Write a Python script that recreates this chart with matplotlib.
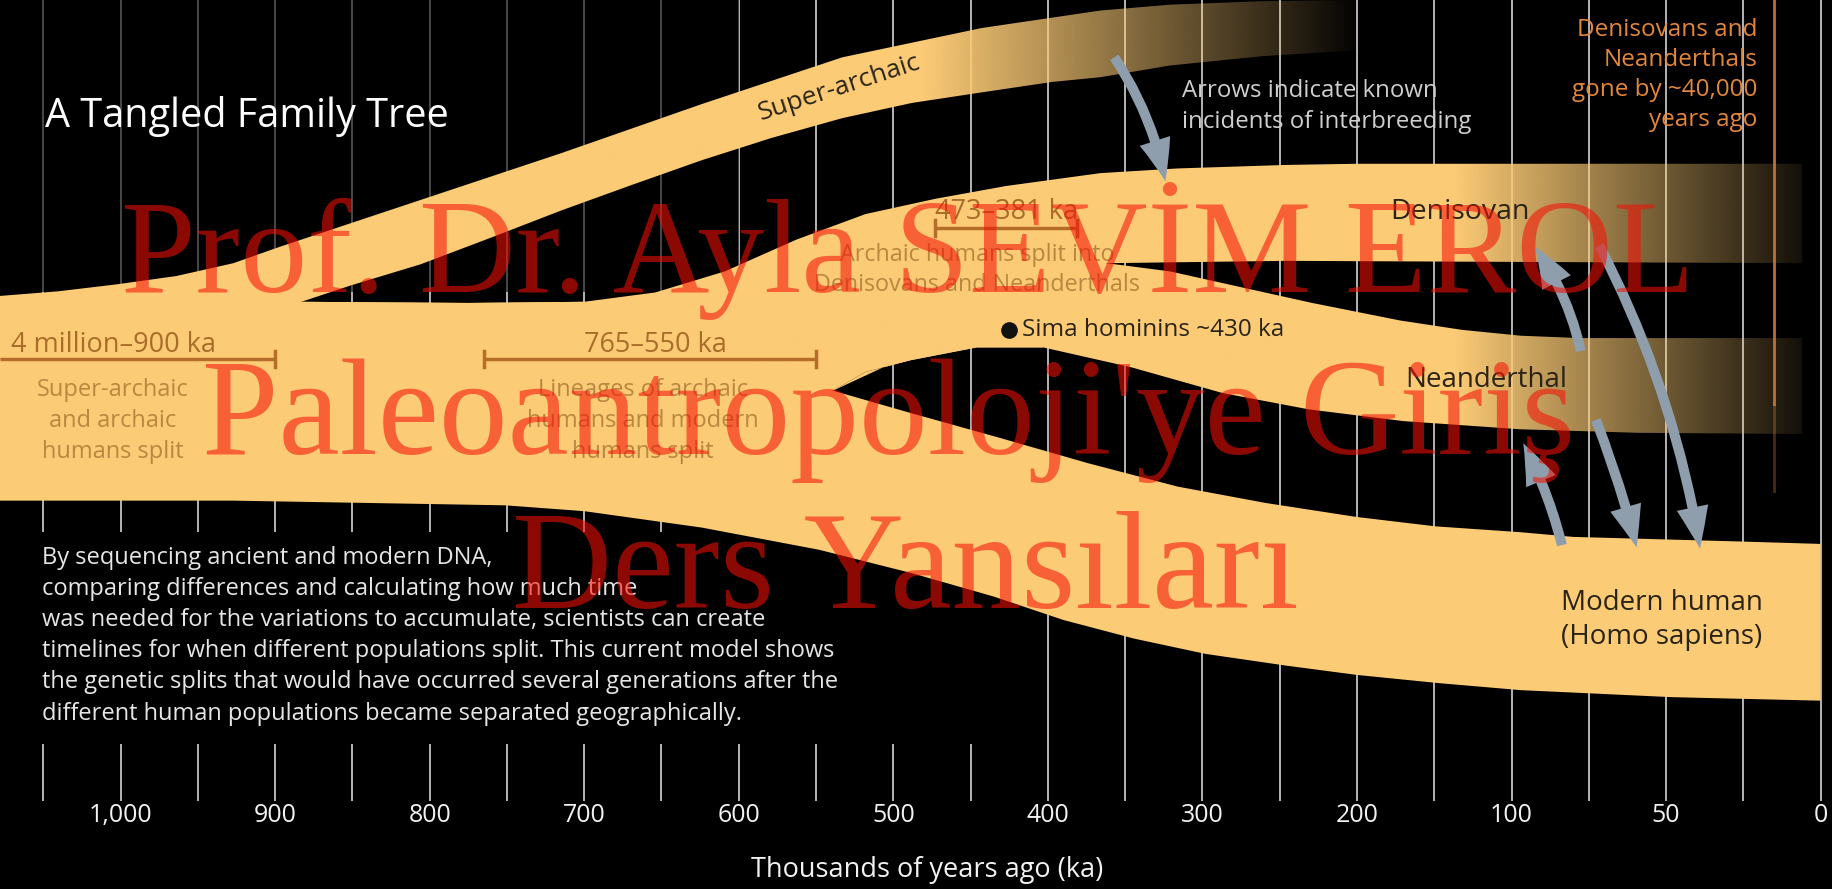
import numpy as np
import matplotlib
matplotlib.use("Agg")
import matplotlib.pyplot as plt
from matplotlib.patches import Polygon, FancyArrowPatch, Rectangle, ArrowStyle

plt.rcParams['font.family'] = ['Open Sans', 'DejaVu Sans']

# ---------------- data ----------------
tick_ka = [1000, 900, 800, 700, 600, 500, 400, 300, 200, 100, 50, 0]
tick_labels = ["1,000", "900", "800", "700", "600", "500", "400", "300", "200", "100", "50", "0"]
grid_ka = [1050, 1000, 950, 900, 850, 800, 750, 700, 650, 600, 550, 500, 450, 400,
           350, 300, 250, 200, 150, 100, 75, 50, 25, 0]

# band outlines: time (ka) and vertical position (0 = top, 760 = bottom)
sa_top_ka = [1078, 1040, 1002, 964, 927, 897, 806, 715, 624, 533, 443, 366, 321, 261, 200]
sa_top_y = [253, 249, 243, 236, 225, 211, 171, 131, 89, 49, 24, 9, 4, 1, 0]
sa_bot_ka = [883, 851, 806, 760, 715, 669, 624, 579, 533, 488, 443, 397, 366, 321, 261, 200]
sa_bot_y = [258, 244, 226, 203, 180, 158, 137, 118, 101, 88, 79, 70, 66, 56, 48, 43]

trunk_top_ka = [1078, 883]
trunk_top_y = [253, 258]
arch_top_ka = [883, 775, 700, 654, 609, 563, 518, 473, 427, 366, 316, 246, 200, 6]
arch_top_y = [258, 259, 258, 250, 232, 205, 183, 170, 159, 148, 144, 141, 140, 140]
den_bot_ka = [362, 246, 6]
den_bot_y = [225, 223, 225]

nea_top_ka = [362, 321, 287, 229, 172, 132, 97, 78, 6]
nea_top_y = [225, 232, 242, 259, 274, 282, 287, 289, 289]
nea_bot_ka = [539, 518, 489, 446, 403, 346, 287, 231, 170, 97, 59, 6]
nea_bot_y = [334, 318, 308, 297, 297, 314, 336, 350, 360, 367, 370, 371]

mod_top_ka = [539, 489, 432, 374, 316, 259, 200, 149, 97, 80, 25, 0]
mod_top_y = [334, 353, 374, 396, 416, 430, 442, 450, 455, 459, 463, 465]
mod_bot_ka = [1078, 927, 751, 700, 624, 548, 488, 435, 390, 344, 298, 246, 200, 147, 97, 48, 0]
mod_bot_y = [428, 428, 432, 437, 451, 470, 490, 510, 530, 546, 559, 569, 577, 584, 590, 596, 599]

# interbreeding arrows: (from ka, from y, to ka, to y, curvature)
arrows = [(357, 49, 324, 155, -0.10),
          (77.6, 300, 92.4, 211, 0.10),
          (71.6, 210, 39.0, 469, -0.08),
          (72.7, 359, 59.5, 468, -0.03),
          (83.7, 466, 96.2, 379, 0.06)]

# split-time brackets: (from ka, to ka, y, left tick, right tick)
brackets = [(1078, 900, 307, False, True),
            (765, 550, 307, True, True),
            (473, 381, 195, True, True)]

sima_ka, sima_y = 425, 282
extinction_ka = 15

body_lines = ["By sequencing ancient and modern DNA,",
              "comparing differences and calculating how much time",
              "was needed for the variations to accumulate, scientists can create",
              "timelines for when different populations split. This current model shows",
              "the genetic splits that would have occurred several generations after the",
              "different human populations became separated geographically."]

# ---------------- styles ----------------
BAND = '#FCCB76'
BAND_RGB = np.array([252, 203, 118]) / 255.0
ORANGE = '#E3873A'
BROWN = '#A96C2A'
BROWN_L = '#B98840'
BRACKET = '#B46E28'
DARK = '#2A2418'
ARROW = '#8F9EAC'


def fwd(t):
    t = np.asarray(t, float)
    return np.where(t >= 100, t / 100.0, t / 50.0 - 1.0)


def inv(s):
    s = np.asarray(s, float)
    return np.where(s >= 1, s * 100.0, (s + 1.0) * 50.0)


fig = plt.figure(figsize=(18.33, 8.89), dpi=100, facecolor='black')
ax = fig.add_axes([0, 0, 1, 1])
ax.set_facecolor('black')
ax.set_xscale('function', functions=(fwd, inv))
ax.set_xlim(1078, -4)
ax.set_ylim(760, 0)
ax.set_autoscale_on(False)
ax.axis('off')


def axfrac(t):
    return ax.transAxes.inverted().transform(ax.transData.transform((t, 0)))[0]


# grid lines
ax.vlines(grid_ka, 0, 685, colors='#e4e4e4', lw=1.3, alpha=0.85, zorder=1)
# black panel behind the explanatory text, dim panel behind the title
ax.add_patch(Rectangle((1078, 455), 430 - 1078, 181, facecolor='black',
                       edgecolor='none', zorder=2))
ax.add_patch(Rectangle((1078, 0), 600 - 1078, 250, facecolor='black', alpha=0.6,
                       edgecolor='none', zorder=2))


def faded_band(xs, ys, t_full, t_end, a_end):
    poly = Polygon(np.column_stack([xs, ys]), closed=True, facecolor='none',
                   edgecolor='none', transform=ax.transData, zorder=3)
    ax.add_patch(poly)
    f0, f1 = axfrac(t_full), axfrac(t_end)
    xx = np.linspace(0, 1, 1200)
    alpha = np.clip(1 - (xx - f0) / (f1 - f0) * (1 - a_end), a_end, 1.0)
    img = np.zeros((1, xx.size, 4))
    img[..., :3] = BAND_RGB
    img[..., 3] = alpha
    im = ax.imshow(img, extent=(0, 1, 0, 1), transform=ax.transAxes,
                   aspect='auto', interpolation='bilinear', zorder=3)
    im.set_clip_path(poly)


# super-archaic band
sa_x = sa_top_ka + sa_bot_ka[::-1] + [1078]
sa_y = sa_top_y + sa_bot_y[::-1] + [340]
faded_band(sa_x, sa_y, 480, 200, 0.02)

# archaic -> Denisovan band (its lower side follows the Neanderthal lineage back to the trunk)
i403 = nea_bot_ka.index(403)
de_x = arch_top_ka + den_bot_ka[::-1] + nea_bot_ka[i403::-1] + [620, 883]
de_y = arch_top_y + den_bot_y[::-1] + nea_bot_y[i403::-1] + [330, 330]
faded_band(de_x, de_y, 135, 6, 0.08)

# Neanderthal band
ne_x = nea_top_ka + nea_bot_ka[::-1]
ne_y = nea_top_y + nea_bot_y[::-1]
faded_band(ne_x, ne_y, 135, 6, 0.08)

# trunk + modern human band
tr_x = trunk_top_ka + arch_top_ka[1:3] + [620] + mod_top_ka + mod_bot_ka[::-1]
tr_y = trunk_top_y + arch_top_y[1:3] + [300] + mod_top_y + mod_bot_y[::-1]
ax.fill(tr_x, tr_y, color=BAND, lw=0, zorder=3)

# extinction line
ax.plot([extinction_ka, extinction_ka], [0, 345], color='#D9782E', lw=2, alpha=0.9, zorder=4)
ax.plot([extinction_ka, extinction_ka], [345, 420], color='#D9782E', lw=2, alpha=0.35, zorder=4)

# brackets
for a, b, y, lt, rt in brackets:
    ax.plot([a, b], [y, y], color=BRACKET, lw=2.5, zorder=4, solid_capstyle='butt')
    if lt:
        ax.plot([a, a], [y - 7, y + 7], color=BRACKET, lw=2.5, zorder=4)
    if rt:
        ax.plot([b, b], [y - 7, y + 7], color=BRACKET, lw=2.5, zorder=4)

# Sima hominins
ax.plot([sima_ka], [sima_y], 'o', color='#111111', ms=11, zorder=5)
ax.text(sima_ka - 8, sima_y, "Sima hominins ~430 ka", color=DARK, fontsize=17.5,
        va='center', ha='left', zorder=5)

# arrows
for x0, y0, x1, y1, rad in arrows:
    ap = FancyArrowPatch((x0, y0), (x1, y1),
                         arrowstyle=ArrowStyle.Simple(head_length=1.5, head_width=1.15, tail_width=0.36),
                         connectionstyle=f'arc3,rad={rad}', mutation_scale=20,
                         color=ARROW, lw=0, shrinkA=0, shrinkB=0, zorder=6)
    ax.add_patch(ap)

# texts
ax.text(1049, 100, "A Tangled Family Tree", color='white', fontsize=28.5,
        va='center', ha='left', zorder=5)
ax.text(535, 75, "Super-archaic", color=DARK, fontsize=19, rotation=18,
        va='center', ha='center', zorder=5)
ax.text(313, 91, "Arrows indicate known\nincidents of interbreeding", color='#cfcfcf',
        fontsize=17.3, va='center', ha='left', linespacing=1.4, zorder=5)
ax.text(20.5, 64, "Denisovans and\nNeanderthals\ngone by ~40,000\nyears ago", color=ORANGE,
        fontsize=17.5, va='center', ha='right', linespacing=1.33, zorder=5)
ax.text(178.5, 181, "Denisovan", color=DARK, fontsize=20.5, va='center', ha='left', zorder=5)
ax.text(169, 325, "Neanderthal", color=DARK, fontsize=20, va='center', ha='left', zorder=5)
ax.text(84, 530, "Modern human\n(Homo sapiens)", color=DARK, fontsize=20, va='center',
        ha='left', linespacing=1.25, zorder=5)

ax.text(1071, 295, "4 million\u2013900 ka", color=BROWN, fontsize=19.5, va='center', ha='left', zorder=5)
ax.text(1005, 360, "Super-archaic\nand archaic\nhumans split", color=BROWN_L, fontsize=17,
        va='center', ha='center', linespacing=1.4, zorder=5)
ax.text(654, 295, "765\u2013550 ka", color=BROWN, fontsize=19.5, va='center', ha='center', zorder=5)
ax.text(662, 360, "Lineages of archaic\nhumans and modern\nhumans split", color=BROWN_L, fontsize=17,
        va='center', ha='center', linespacing=1.4, zorder=5)
ax.text(427, 181, "473\u2013381 ka", color=BROWN, fontsize=19.5, va='center', ha='center', zorder=5)
ax.text(446, 231, "Archaic humans split into\nDenisovans and Neanderthals", color=BROWN_L,
        fontsize=16.8, va='center', ha='center', linespacing=1.35, zorder=5)

for i, line in enumerate(body_lines):
    ax.text(1051, 477 + i * 26.6, line, color='#e6e6e6', fontsize=17,
            va='center', ha='left', zorder=5)

for t, lab in zip(tick_ka, tick_labels):
    ax.text(t, 697, lab, color='#f2f2f2', fontsize=18, va='center', ha='center', zorder=5)
ax.text(478, 744, "Thousands of years ago (ka)", color='#f2f2f2', fontsize=19.5,
        va='center', ha='center', zorder=5)

# watermark
wm = dict(family=['Liberation Serif', 'DejaVu Serif'], color='#F51005',
          alpha=0.57, ha='center', va='baseline', zorder=10)
fig.text(0.4955, 1 - 250 / 760, "Prof. Dr. Ayla SEV\u0130M EROL", fontsize=96.5, **wm)
fig.text(0.4847, 1 - 388 / 760, "Paleoantropoloji'ye Giri\u015f", fontsize=99, **wm)
fig.text(0.494, 1 - 520 / 760, "Ders Yans\u0131lar\u0131", fontsize=100, **wm)

ax.set_xlim(1078, -4)
ax.set_ylim(760, 0)
fig.savefig("out.png", dpi=100, facecolor='black')
